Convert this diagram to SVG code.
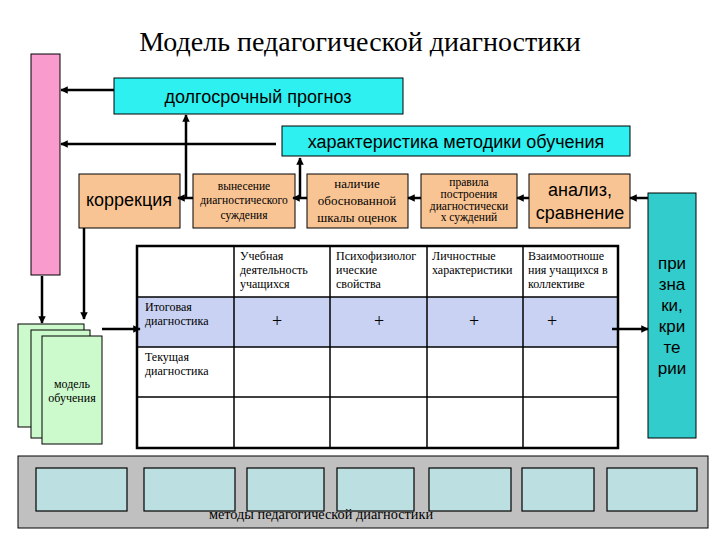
<svg xmlns="http://www.w3.org/2000/svg" width="720" height="540" viewBox="0 0 720 540">
<style>
.serif{font-family:"Liberation Serif","DejaVu Serif",serif;fill:#000}
.sans{font-family:"Liberation Sans",Arial,sans-serif;fill:#000}
.cyan{fill:#2EF0F0;stroke:#000;stroke-width:1}
.orange{fill:#F9C494;stroke:#000;stroke-width:1}
.green{fill:#CCFACC;stroke:#000;stroke-width:1}
.method{fill:#BCDFE2;stroke:#000;stroke-width:1.2}
.conn{stroke:#000;stroke-width:2.5;fill:none}
.grid{stroke:#000;stroke-width:1.5;fill:none}
.small{font-size:12px}
</style>
<defs>
<marker id="ah" viewBox="0 0 10 10" refX="9" refY="5" markerWidth="3" markerHeight="3" orient="auto">
<path d="M0,0 L10,5 L0,10 z" fill="#000"/>
</marker>
</defs>
<rect width="720" height="540" fill="#fff"/>
<text class="serif" x="360" y="51" font-size="28" text-anchor="middle">Модель педагогической диагностики</text>

<g id="pink-bar"><rect x="31" y="54" width="29" height="221" fill="#F99BCC" stroke="#000" stroke-width="1"/></g>

<g id="forecast"><rect class="cyan" x="114" y="78" width="289" height="36"/>
<text class="sans" x="258" y="103" font-size="18" text-anchor="middle">долгосрочный прогноз</text></g>

<g id="method-char"><rect class="cyan" x="282" y="126" width="348" height="30"/>
<text class="sans" x="456" y="148" font-size="18" text-anchor="middle">характеристика методики обучения</text></g>

<g id="correction"><rect class="orange" x="79" y="174" width="101" height="54"/>
<text class="sans" x="129" y="206" font-size="18" text-anchor="middle">коррекция</text></g>

<g id="judgement"><rect class="orange" x="193" y="174" width="102" height="54"/>
<text class="serif" font-size="11.5" text-anchor="middle"><tspan x="244" y="190">вынесение</tspan><tspan x="244" y="204">диагностического</tspan><tspan x="244" y="219">суждения</tspan></text></g>

<g id="scale"><rect class="orange" x="307" y="174" width="101" height="54"/>
<text class="serif" font-size="13" text-anchor="middle"><tspan x="357" y="188">наличие</tspan><tspan x="357" y="205">обоснованной</tspan><tspan x="357" y="222">шкалы оценок</tspan></text></g>

<g id="rules"><rect class="orange" x="421" y="174" width="96" height="54"/>
<text class="serif" font-size="11.5" text-anchor="middle"><tspan x="469" y="186">правила</tspan><tspan x="469" y="198">построения</tspan><tspan x="469" y="210">диагностически</tspan><tspan x="469" y="221">х суждений</tspan></text></g>

<g id="analysis"><rect class="orange" x="529" y="174" width="101" height="54"/>
<text class="sans" font-size="18" text-anchor="middle"><tspan x="580" y="196">анализ,</tspan><tspan x="580" y="219">сравнение</tspan></text></g>

<g id="criteria"><rect x="648" y="193" width="48" height="245" fill="#33CCCC" stroke="#000" stroke-width="1"/>
<text class="sans" font-size="17" text-anchor="middle"><tspan x="672" y="269">при</tspan><tspan x="672" y="290">зна</tspan><tspan x="672" y="311">ки,</tspan><tspan x="672" y="332">кри</tspan><tspan x="672" y="353">те</tspan><tspan x="672" y="374">рии</tspan></text></g>

<g id="model-stack">
<rect class="green" x="18" y="324" width="66" height="103"/>
<rect class="green" x="31" y="330" width="59" height="108"/>
<rect class="green" x="42" y="336" width="60" height="108"/>
<text class="serif" font-size="12" text-anchor="middle"><tspan x="72" y="388">модель</tspan><tspan x="72" y="402">обучения</tspan></text>
</g>

<g id="table">
<rect x="137" y="297" width="481" height="50" fill="#C9D2F2"/>
<g class="grid">
<line x1="137" y1="297" x2="618" y2="297"/>
<line x1="137" y1="347" x2="618" y2="347"/>
<line x1="137" y1="397" x2="618" y2="397"/>
<line x1="234" y1="246" x2="234" y2="448"/>
<line x1="330" y1="246" x2="330" y2="448"/>
<line x1="427" y1="246" x2="427" y2="448"/>
<line x1="523" y1="246" x2="523" y2="448"/>
</g>
<rect x="137" y="246" width="481" height="202" fill="none" stroke="#000" stroke-width="2.5"/>
<text class="serif small"><tspan x="240" y="260">Учебная</tspan><tspan x="240" y="274">деятельность</tspan><tspan x="240" y="288">учащихся</tspan></text>
<text class="serif small"><tspan x="336" y="260">Психофизиолог</tspan><tspan x="336" y="274">ические</tspan><tspan x="336" y="288">свойства</tspan></text>
<text class="serif small"><tspan x="432" y="260">Личностные</tspan><tspan x="432" y="274">характеристики</tspan></text>
<text class="serif small"><tspan x="528" y="260">Взаимоотноше</tspan><tspan x="528" y="274">ния учащихся в</tspan><tspan x="528" y="288">коллективе</tspan></text>
<text class="serif small"><tspan x="145" y="311">Итоговая</tspan><tspan x="145" y="325">диагностика</tspan></text>
<text class="serif small"><tspan x="145" y="361">Текущая</tspan><tspan x="145" y="375">диагностика</tspan></text>
<text class="serif" font-size="18" text-anchor="middle"><tspan x="277" y="327">+</tspan><tspan x="379" y="327">+</tspan><tspan x="474" y="327">+</tspan><tspan x="552" y="327">+</tspan></text>
</g>

<g id="methods">
<rect x="18" y="456" width="690" height="72" fill="#C0C0C0" stroke="#000" stroke-width="1"/>
<rect class="method" x="36" y="468" width="91" height="43"/>
<rect class="method" x="144" y="468" width="91" height="43"/>
<rect class="method" x="247" y="468" width="77" height="43"/>
<rect class="method" x="337" y="468" width="77" height="43"/>
<rect class="method" x="429" y="468" width="82" height="43"/>
<rect class="method" x="522" y="468" width="72" height="43"/>
<rect class="method" x="607" y="468" width="90" height="43"/>
<text class="serif" x="321" y="519" font-size="14.3" text-anchor="middle">методы педагогической диагностики</text>
</g>

<g id="connectors">
<line class="conn" x1="114" y1="90" x2="61" y2="90" marker-end="url(#ah)"/>
<line class="conn" x1="276" y1="144" x2="61" y2="144" marker-end="url(#ah)"/>
<line class="conn" x1="193" y1="198" x2="178" y2="198" marker-end="url(#ah)"/>
<line class="conn" x1="186" y1="198" x2="186" y2="115" marker-end="url(#ah)"/>
<line class="conn" x1="307" y1="198" x2="293" y2="198" marker-end="url(#ah)"/>
<line class="conn" x1="300" y1="198" x2="300" y2="158" marker-end="url(#ah)"/>
<line class="conn" x1="421" y1="198" x2="408" y2="198" marker-end="url(#ah)"/>
<line class="conn" x1="529" y1="198" x2="517" y2="198" marker-end="url(#ah)"/>
<line class="conn" x1="648" y1="198" x2="630" y2="198" marker-end="url(#ah)"/>
<line class="conn" x1="42" y1="276" x2="42" y2="323" marker-end="url(#ah)"/>
<line class="conn" x1="84" y1="228" x2="84" y2="319" marker-end="url(#ah)"/>
<line class="conn" x1="102" y1="329" x2="140" y2="329" marker-end="url(#ah)"/>
<line class="conn" x1="612" y1="329" x2="648" y2="329" marker-end="url(#ah)"/>
</g>
</svg>
